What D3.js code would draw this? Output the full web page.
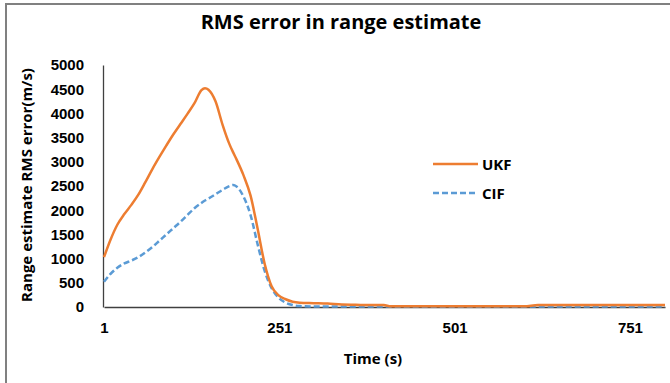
<!DOCTYPE html>
<html>
<head>
<meta charset="utf-8">
<script src="https://cdn.jsdelivr.net/npm/d3@7"></script>
<style>
  body { margin: 0; background: #fff; }
  svg { display: block; font-family: "Open Sans", "DejaVu Sans", sans-serif; }
</style>
</head>
<body>
<div id="chart"></div>
<script>
// data
const times = [1, 10, 20, 30, 40, 50, 60, 70, 80, 90, 100, 110, 120, 130, 140, 145, 150, 160, 170, 180,
  185, 190, 200, 210, 220, 230, 240, 250, 260, 270, 280, 300, 320, 340, 360, 380, 400, 410, 450,
  500, 550, 600, 620, 650, 700, 750, 801];
const ukf = [1030, 1380, 1700, 1920, 2110, 2320, 2580, 2850, 3100, 3340, 3570, 3780, 3990, 4210, 4480, 4520, 4490, 4250, 3770, 3360,
  3200, 3050, 2720, 2300, 1620, 900, 430, 240, 160, 110, 90, 80, 70, 50, 45, 40, 40, 15, 15,
  15, 15, 15, 40, 40, 40, 40, 40];
const cif = [520, 680, 810, 900, 960, 1030, 1130, 1240, 1370, 1500, 1630, 1760, 1900, 2040, 2150, 2200, 2240, 2330, 2420, 2500,
  2520, 2490, 2280, 1900, 1300, 750, 390, 190, 90, 40, 20, 10, 10, 10, 10, 10, 10, 10, 10,
  10, 10, 10, 10, 10, 10, 10, 10];
const yTicks = [0, 500, 1000, 1500, 2000, 2500, 3000, 3500, 4000, 4500, 5000];
const xTicks = [1, 251, 501, 751];

const W = 670, H = 383;
const svg = d3.select("#chart").append("svg")
    .attr("width", W)
    .attr("height", H);

// outer frame (left and top edges visible)
svg.append("path")
    .attr("d", `M6,${H + 2}V4H${W + 2}`)
    .attr("fill", "none")
    .attr("stroke", "#808080")
    .attr("stroke-width", 2);

const x = d3.scaleLinear().domain([1, 801]).range([104, 665]);
const y = d3.scaleLinear().domain([0, 5000]).range([307, 65]);

// title
svg.append("text")
    .attr("x", 341)
    .attr("y", 29)
    .attr("text-anchor", "middle")
    .style("font-size", "20px")
    .style("font-weight", "700")
    .attr("fill", "#000")
    .text("RMS error in range estimate");

// y axis
const yAxis = svg.append("g")
    .attr("transform", `translate(${x(1) - 1},0)`)
    .call(d3.axisLeft(y).tickValues(yTicks).tickSize(0).tickPadding(19).tickFormat(d3.format("d")));
yAxis.select(".domain").attr("stroke", "#404040").attr("stroke-width", 1.3);
yAxis.selectAll("text")
    .style("font-size", "15px")
    .style("font-weight", "700")
    .attr("fill", "#000");

// x axis
const xAxis = svg.append("g")
    .attr("transform", `translate(0,${y(0)})`)
    .call(d3.axisBottom(x).tickValues(xTicks).tickSize(0).tickPadding(15).tickFormat(d3.format("d")));
xAxis.select(".domain").attr("stroke", "#404040").attr("stroke-width", 1.3);
xAxis.selectAll("text")
    .style("font-size", "15px")
    .style("font-weight", "700")
    .attr("fill", "#000");

// axis titles
svg.append("text")
    .attr("x", 373)
    .attr("y", 364)
    .attr("text-anchor", "middle")
    .style("font-size", "15px")
    .style("font-weight", "700")
    .attr("fill", "#000")
    .text("Time (s)");

svg.append("text")
    .attr("transform", "rotate(-90)")
    .attr("x", -185)
    .attr("y", 32)
    .attr("text-anchor", "middle")
    .style("font-size", "15px")
    .style("font-weight", "700")
    .attr("fill", "#000")
    .text("Range estimate RMS error(m/s)");

// lines
const line = vals => d3.line()
    .x((d, i) => x(times[i]))
    .y(d => y(d))
    .curve(d3.curveMonotoneX)(vals);

svg.append("path")
    .attr("d", line(cif))
    .attr("fill", "none")
    .attr("stroke", "#5B9BD5")
    .attr("stroke-width", 2.5)
    .attr("stroke-dasharray", "6,3");

svg.append("path")
    .attr("d", line(ukf))
    .attr("fill", "none")
    .attr("stroke", "#ED7D31")
    .attr("stroke-width", 2.5);

// legend
const legend = [
    {name: "UKF", color: "#ED7D31", dash: null, y: 164},
    {name: "CIF", color: "#5B9BD5", dash: "6,3", y: 193}
];
legend.forEach(l => {
    svg.append("line")
        .attr("x1", 433).attr("x2", 478)
        .attr("y1", l.y).attr("y2", l.y)
        .attr("stroke", l.color)
        .attr("stroke-width", 2.5)
        .attr("stroke-dasharray", l.dash);
    svg.append("text")
        .attr("x", 482)
        .attr("y", l.y + 6)
        .style("font-size", "15px")
        .style("font-weight", "700")
        .attr("fill", "#000")
        .text(l.name);
});
</script>
</body>
</html>
